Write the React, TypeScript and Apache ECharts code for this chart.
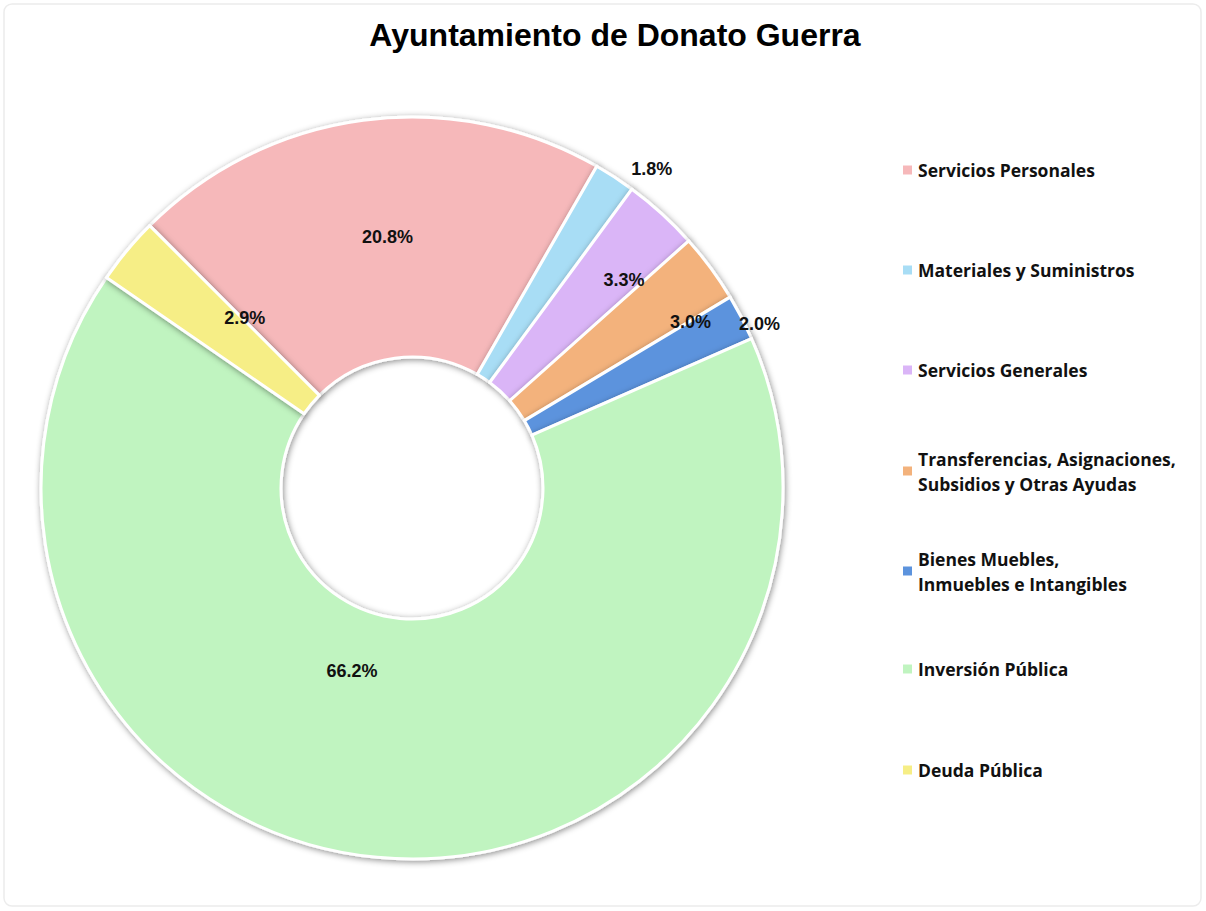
import React, { useEffect, useRef } from "react";
import * as echarts from "echarts";

const titleText = "Ayuntamiento de Donato Guerra";
const categories = [
  "Servicios Personales",
  "Materiales y Suministros",
  "Servicios Generales",
  "Transferencias, Asignaciones, Subsidios y Otras Ayudas",
  "Bienes Muebles, Inmuebles e Intangibles",
  "Inversión Pública",
  "Deuda Pública",
];
const legendLabels = [
  "Servicios Personales",
  "Materiales y Suministros",
  "Servicios Generales",
  "Transferencias, Asignaciones,\nSubsidios y Otras Ayudas",
  "Bienes Muebles,\nInmuebles e Intangibles",
  "Inversión Pública",
  "Deuda Pública",
];
const values = [20.8, 1.8, 3.3, 3.0, 2.0, 66.2, 2.9];
const colors = ["#F6B8BA", "#A8DDF5", "#DAB5F7", "#F3B27C", "#5C93DD", "#C0F4C0", "#F6EE86"];

// label nudges (layout only)
const labelShift: [number, number][] = [
  [9, 1],
  [101, -106],
  [41, -20],
  [74, -15],
  [122, -47],
  [-36, -70],
  [28, -7],
];
// legend first-line centre positions (layout only)
const legendCenters = [170, 270, 370, 471, 571, 669, 770];

export default function App() {
  const ref = useRef<HTMLDivElement>(null);
  useEffect(() => {
    if (!ref.current) return;
    const chart = echarts.init(ref.current, null, { renderer: "svg" });
    const legends = categories.map((name, i) => {
      const multi = legendLabels[i].includes("\n");
      return {
        data: [name],
        orient: "vertical",
        left: 901,
        top: multi ? legendCenters[i] - 37.5 : legendCenters[i] - 12.5,
        padding: 0,
        itemWidth: 11,
        itemHeight: 11,
        itemGap: 5,
        icon: "rect",
        selectedMode: false,
        formatter: () => legendLabels[i],
        textStyle: {
          fontFamily: "'Open Sans', sans-serif",
          fontWeight: "bold",
          fontSize: 17.5,
          color: "#111",
          lineHeight: 25,
          padding: multi ? [25, 0, 0, 0] : 0,
        },
      };
    });
    chart.setOption({
      animation: false,
      backgroundColor: "#ffffff",
      color: colors,
      title: {
        text: titleText,
        left: 610,
        textAlign: "center",
        top: 14,
        textStyle: {
          fontFamily: "'Liberation Sans', Arial, sans-serif",
          fontWeight: "bold",
          fontSize: 32,
          color: "#000",
        },
      },
      legend: legends,
      graphic: [
        {
          type: "rect",
          shape: { x: 4, y: 4, width: 1197, height: 902, r: 8 },
          style: { fill: "none", stroke: "#ececec", lineWidth: 1.5 },
          silent: true,
        },
      ],
      series: [
        {
          type: "pie",
          center: [412, 488],
          radius: [131, 371],
          startAngle: 135,
          clockwise: true,
          avoidLabelOverlap: false,
          data: categories.map((name, i) => ({ name, value: values[i] })),
          itemStyle: {
            borderColor: "#ffffff",
            borderWidth: 3,
            shadowBlur: 6,
            shadowColor: "rgba(0,0,0,0.45)",
            shadowOffsetX: 1,
            shadowOffsetY: 1.5,
          },
          label: {
            show: true,
            position: "inside",
            formatter: (p: any) => p.value.toFixed(1) + "%",
            fontFamily: "'Liberation Sans Narrow', 'Liberation Sans', Arial, sans-serif",
            fontWeight: "bold",
            fontSize: 18,
            color: "#111",
          },
          labelLine: { show: false },
          labelLayout: (p: any) => ({
            dx: labelShift[p.dataIndex][0],
            dy: labelShift[p.dataIndex][1],
          }),
          emphasis: { disabled: true },
        },
      ],
    });
    return () => chart.dispose();
  }, []);
  return (
    <div
      ref={ref}
      style={{ position: "absolute", left: 0, top: 0, width: 1206, height: 911 }}
    />
  );
}
